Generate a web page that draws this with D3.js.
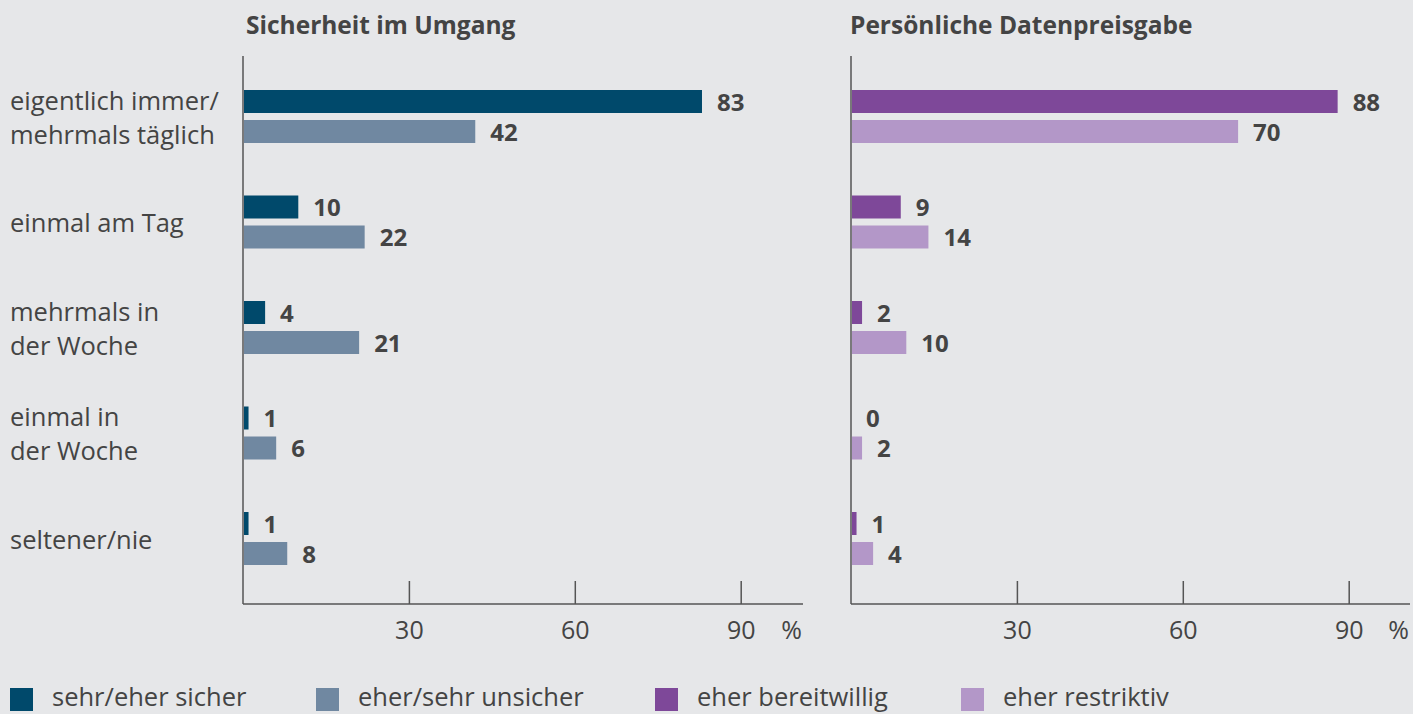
<!DOCTYPE html>
<html>
<head>
<meta charset="utf-8">
<script src="https://cdn.jsdelivr.net/npm/d3@7"></script>
<style>
  body { margin: 0; background: #e6e7e9; }
  svg { display: block; font-family: "Open Sans", sans-serif; }
</style>
</head>
<body>
<div id="chart"></div>
<script>
var categories = [["eigentlich immer/", "mehrmals täglich"], ["einmal am Tag"], ["mehrmals in", "der Woche"], ["einmal in", "der Woche"], ["seltener/nie"]];
var sicher = [83, 10, 4, 1, 1];
var unsicher = [42, 22, 21, 6, 8];
var bereitwillig = [88, 9, 2, 0, 1];
var restriktiv = [70, 14, 10, 2, 4];
var tickValues = [30, 60, 90];
var titles = ["Sicherheit im Umgang", "Persönliche Datenpreisgabe"];
var legendLabels = ["sehr/eher sicher", "eher/sehr unsicher", "eher bereitwillig", "eher restriktiv"];
var colors = ["#00496b", "#7088a1", "#7e4899", "#b397c8"];

var width = 1413, height = 714;
var textColor = "#444", axisColor = "#555";

var svg = d3.select("#chart").append("svg")
    .attr("width", width)
    .attr("height", height);

svg.append("rect").attr("width", width).attr("height", height).attr("fill", "#e6e7e9");

// group centres
var y = d3.scalePoint()
    .domain(d3.range(categories.length))
    .range([116.5, 538.5]);

var barH = 23, axisY = 604;

// category labels
categories.forEach(function(lines, i) {
  var t = svg.append("text")
      .attr("x", 10)
      .attr("fill", textColor)
      .style("font-size", "25.5px");
  var first = y(i) + 10 - (lines.length - 1) * 17;
  lines.forEach(function(l, j) {
    t.append("tspan").attr("x", 10).attr("y", first + j * 34).text(l);
  });
});

var panels = [
  {title: titles[0], titleX: 246, left: 243, right: 803, series: [sicher, unsicher], cols: [colors[0], colors[1]]},
  {title: titles[1], titleX: 850, left: 851, right: 1410, series: [bereitwillig, restriktiv], cols: [colors[2], colors[3]]}
];

panels.forEach(function(p) {
  var x = d3.scaleLinear()
      .domain([0, (p.right - p.left) / 5.53])
      .range([p.left, p.right]);

  var g = svg.append("g");

  g.append("text")
      .attr("x", p.titleX)
      .attr("y", 34)
      .attr("fill", textColor)
      .style("font-size", "24.5px")
      .style("font-weight", "bold")
      .text(p.title);

  // bottom axis with ticks pointing up
  var axis = g.append("g")
      .attr("transform", "translate(0," + axisY + ")")
      .call(d3.axisBottom(x).tickValues(tickValues).tickSize(-23).tickPadding(0));
  axis.select(".domain").attr("d", "M" + p.left + ",0H" + p.right).attr("stroke", axisColor).attr("stroke-width", 1.5);
  axis.selectAll(".tick line").attr("stroke", axisColor).attr("stroke-width", 1.5);
  axis.selectAll(".tick text")
      .attr("y", 35)
      .attr("dy", null)
      .attr("fill", textColor)
      .style("font-size", "25px")
      .style("font-family", "Open Sans, sans-serif");

  g.append("text")
      .attr("x", p.right - 1)
      .attr("y", 639)
      .attr("text-anchor", "end")
      .attr("fill", textColor)
      .style("font-size", "25px")
      .text("%");

  // vertical axis line
  g.append("line")
      .attr("x1", p.left).attr("x2", p.left)
      .attr("y1", 56).attr("y2", axisY)
      .attr("stroke", axisColor).attr("stroke-width", 1.5);

  p.series.forEach(function(vals, s) {
    var off = s === 0 ? -26.5 : 3.5;
    g.selectAll(".bar" + s)
      .data(vals)
      .enter().append("rect")
      .attr("x", x(0) + 1)
      .attr("y", function(d, i) { return y(i) + off; })
      .attr("width", function(d) { return Math.max(0, x(d) - x(0) - 1); })
      .attr("height", barH)
      .attr("fill", p.cols[s]);

    g.selectAll(".lab" + s)
      .data(vals)
      .enter().append("text")
      .attr("x", function(d) { return x(d) + 15; })
      .attr("y", function(d, i) { return y(i) + off + barH / 2 + 9; })
      .attr("fill", textColor)
      .style("font-size", "24px")
      .style("font-weight", "bold")
      .text(function(d) { return d; });
  });
});

// legend
var legendX = [10, 316, 655, 961];
legendLabels.forEach(function(l, i) {
  svg.append("rect")
      .attr("x", legendX[i]).attr("y", 688)
      .attr("width", 23).attr("height", 23)
      .attr("fill", colors[i]);
  svg.append("text")
      .attr("x", legendX[i] + 42).attr("y", 706)
      .attr("fill", textColor)
      .style("font-size", "25.5px")
      .text(l);
});
</script>
</body>
</html>
